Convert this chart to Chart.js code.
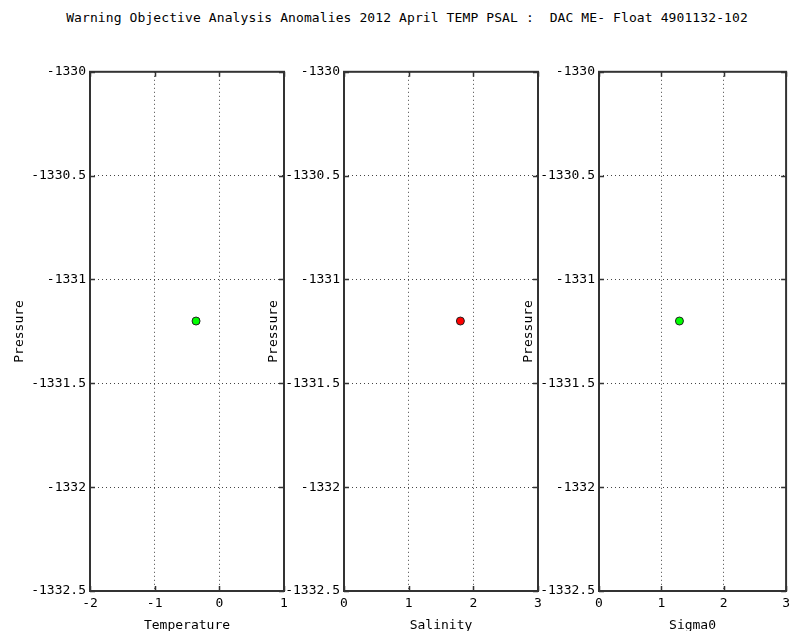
<!DOCTYPE html>
<html>
<head>
<meta charset="utf-8">
<script src="https://cdn.jsdelivr.net/npm/chart.js@4/dist/chart.umd.min.js"></script>
<style>
  html, body { margin: 0; padding: 0; background: #fff; width: 795px; height: 631px; overflow: hidden; position: relative; }
  #title { position: absolute; left: 0; top: 10px; width: 814px; text-align: center;
           font-family: "DejaVu Sans Mono", monospace; font-size: 13px; letter-spacing: 0.1px; color: #000; white-space: pre; }
  canvas { position: absolute; top: 60px; }
</style>
</head>
<body>
<div id="title">Warning Objective Analysis Anomalies 2012 April TEMP PSAL :  DAC ME- Float 4901132-102</div>
<canvas id="c1" width="296" height="573" style="left:0px"></canvas>
<canvas id="c2" width="296" height="573" style="left:254px"></canvas>
<canvas id="c3" width="286" height="573" style="left:509px"></canvas>
<script>
// ---- data ----
const pressure      = [-1331.2];
const temperature   = [-0.36];
const salinity      = [1.8];
const sigma0        = [1.29];
const panelTitles   = ['Temperature', 'Salinity', 'Sigma0'];
const xMins         = [-2, 0, 0];
const xMaxs         = [1, 3, 3];
const yMin = -1332.5, yMax = -1330, yStep = 0.5;
const pointFill     = ['#00ff00', '#ff0000', '#00ff00'];

Chart.defaults.font.family = '"DejaVu Sans Mono", monospace';
Chart.defaults.font.size = 13;
Chart.defaults.color = '#000';

const framePlugin = {
  id: 'frame',
  beforeDatasetsDraw(chart) {
    const ctx = chart.ctx, a = chart.chartArea;
    const xs = chart.scales.x, ys = chart.scales.y;
    ctx.save();
    ctx.strokeStyle = '#333';
    ctx.lineWidth = 2;
    ctx.strokeRect(a.left, a.top, a.right - a.left, a.bottom - a.top);
    ctx.lineWidth = 1.5;
    const L = 5;
    ctx.beginPath();
    xs.ticks.forEach(t => {
      const px = Math.round(xs.getPixelForValue(t.value)) + 0.5;
      ctx.moveTo(px, a.bottom); ctx.lineTo(px, a.bottom - L);
      ctx.moveTo(px, a.top); ctx.lineTo(px, a.top + L);
    });
    ys.ticks.forEach(t => {
      const py = Math.round(ys.getPixelForValue(t.value)) + 0.5;
      ctx.moveTo(a.left, py); ctx.lineTo(a.left + L, py);
      ctx.moveTo(a.right, py); ctx.lineTo(a.right - L, py);
    });
    ctx.stroke();
    ctx.restore();
  }
};

function makeChart(id, xs, idx, padRight) {
  const pts = xs.map((v, i) => ({ x: v, y: pressure[i] }));
  return new Chart(document.getElementById(id), {
    type: 'scatter',
    data: { datasets: [{
      data: pts,
      pointRadius: 4,
      pointHoverRadius: 4,
      pointBackgroundColor: pointFill[idx],
      pointBorderColor: '#222',
      pointBorderWidth: 1
    }]},
    options: {
      responsive: false,
      animation: false,
      devicePixelRatio: 1,
      layout: { padding: { top: 10, right: padRight, left: 0, bottom: 0 } },
      plugins: { legend: { display: false }, tooltip: { enabled: false } },
      scales: {
        x: {
          type: 'linear', min: xMins[idx], max: xMaxs[idx],
          ticks: { stepSize: 1, padding: 5, callback: v => String(v), maxRotation: 0 },
          grid: { color: '#444', borderDash: [1, 3], drawTicks: false, lineWidth: 1 },
          border: { display: false, dash: [1, 3] },
          title: { display: true, text: panelTitles[idx], padding: { top: 4, bottom: 0 } },
          afterFit(s) { s.height = 42; }
        },
        y: {
          type: 'linear', min: yMin, max: yMax,
          ticks: { stepSize: yStep, padding: 4, callback: v => String(v) },
          grid: { color: '#444', borderDash: [1, 3], drawTicks: false, lineWidth: 1 },
          border: { display: false, dash: [1, 3] },
          title: { display: true, text: 'Pressure', padding: { top: 12, bottom: 0 } },
          afterFit(s) { s.width = 90; }
        }
      }
    },
    plugins: [framePlugin]
  });
}

makeChart('c1', temperature, 0, 12);
makeChart('c2', salinity, 1, 12);
makeChart('c3', sigma0, 2, 2);
</script>
</body>
</html>
